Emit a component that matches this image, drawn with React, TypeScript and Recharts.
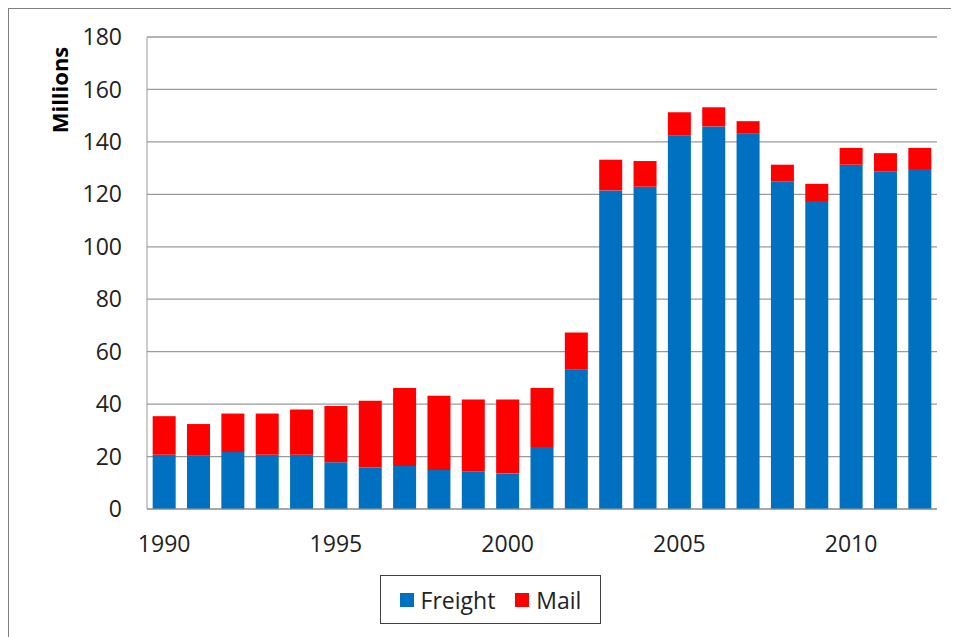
import { BarChart, Bar, XAxis, YAxis, CartesianGrid, Legend } from "recharts";

const years = [
  "1990", "1991", "1992", "1993", "1994", "1995", "1996", "1997", "1998", "1999", "2000", "2001",
  "2002", "2003", "2004", "2005", "2006", "2007", "2008", "2009", "2010", "2011", "2012",
];
const freight = [
  20.7, 20.3, 21.7, 20.7, 20.7, 17.8, 15.9, 16.4, 14.9, 14.4, 13.5, 23.6,
  53.1, 121.5, 122.9, 142.5, 145.9, 143.1, 125.0, 117.1, 131.3, 128.8, 129.3,
];
const mail = [
  14.7, 12.1, 14.7, 15.7, 17.2, 21.5, 25.4, 29.7, 28.3, 27.4, 28.3, 22.5,
  14.2, 11.7, 9.8, 8.8, 7.3, 4.8, 6.3, 6.9, 6.4, 6.9, 8.4,
];
const yTicks = [0, 20, 40, 60, 80, 100, 120, 140, 160, 180];

const chartData = years.map((year, i) => ({ year, freight: freight[i], mail: mail[i] }));

const FONT = "'Open Sans', 'Noto Sans', sans-serif";
const BLUE = "#0070C0";
const RED = "#FF0000";
const TEXT = "#222";

const LegendBox = () => (
  <div
    style={{
      height: 49,
      width: 221,
      boxSizing: "border-box",
      border: "1.5px solid #404040",
      background: "#fff",
      display: "flex",
      alignItems: "center",
      justifyContent: "center",
      fontFamily: FONT,
      fontSize: 23,
      color: TEXT,
    }}
  >
    <span style={{ width: 14, height: 14, background: BLUE, marginRight: 7 }} />
    <span style={{ marginRight: 20 }}>Freight</span>
    <span style={{ width: 14, height: 14, background: RED, marginRight: 7 }} />
    <span>Mail</span>
  </div>
);

const MillionsLabel = () => (
  <text
    x={50}
    y={81}
    transform="rotate(-90, 50, 81)"
    textAnchor="middle"
    dominantBaseline="central"
    fontFamily={FONT}
    fontWeight="bold"
    fontSize={22}
    fill="#000"
  >
    Millions
  </text>
);

const App = () => {
  return (
    <div
      style={{
        position: "relative",
        top: -1,
        left: -1,
        width: 952,
        height: 631,
        borderLeft: "2.5px solid #808080",
        borderTop: "2.5px solid #808080",
        boxSizing: "border-box",
        background: "#fff",
        fontFamily: FONT,
      }}
    >
      <BarChart
        width={949}
        height={628}
        data={chartData}
        margin={{ top: 28, right: 21, left: 0, bottom: 13 }}
        barCategoryGap="16.5%"
      >
        <CartesianGrid vertical={false} stroke="#9a9a9a" strokeWidth={1.3} />
        <XAxis
          dataKey="year"
          height={66}
          interval={4}
          tickLine={false}
          tickMargin={21}
          stroke="#9a9a9a"
          tick={{ fontSize: 23, fill: TEXT, fontFamily: FONT }}
        />
        <YAxis
          width={138}
          domain={[0, 180]}
          ticks={yTicks}
          tickLine={false}
          tickMargin={19}
          stroke="#9a9a9a"
          tick={{ fontSize: 23, fill: TEXT, fontFamily: FONT }}
          label={{ content: () => <MillionsLabel /> }}
        />
        <Legend
          verticalAlign="bottom"
          content={() => <LegendBox />}
          wrapperStyle={{ left: 371, width: 221, height: 49 }}
        />
        <Bar dataKey="freight" name="Freight" stackId="a" fill={BLUE} isAnimationActive={false} />
        <Bar dataKey="mail" name="Mail" stackId="a" fill={RED} isAnimationActive={false} />
      </BarChart>
    </div>
  );
};

export default App;
